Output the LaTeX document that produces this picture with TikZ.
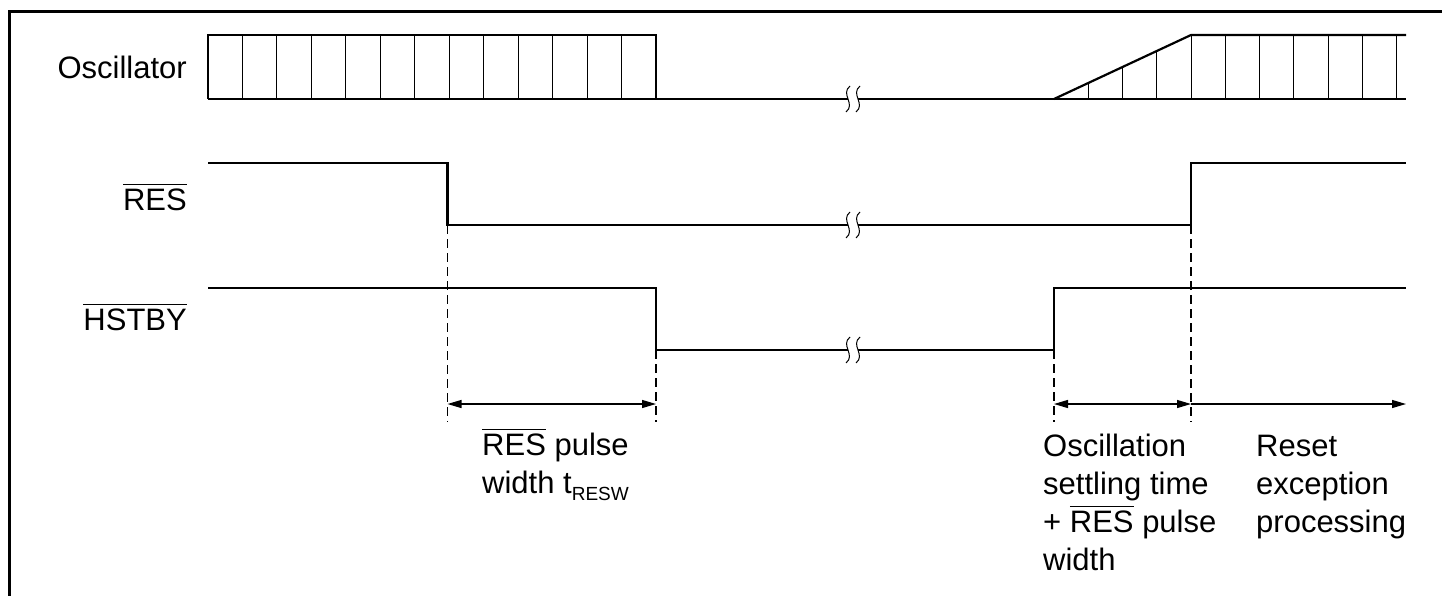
\documentclass[tikz,border=0pt]{standalone}
\usepackage{fontspec}
\setmainfont{Liberation Sans}
\usetikzlibrary{arrows.meta}
\newcommand\ovl[1]{\leavevmode\setbox0\hbox{#1}\rlap{\rule[\dimexpr\ht0+3.2pt\relax]{\wd0}{1.3pt}}\box0\relax}
\newcommand\subs[1]{\raisebox{-7pt}{\fontsize{19}{19}\selectfont #1}}
\tikzset{
  sig/.style={line width=2.2pt, line join=miter},
  osctick/.style={line width=1pt},
  guide/.style={line width=1.2pt, dash pattern=on 9pt off 5pt},
  dim/.style={line width=1.2pt},
  tip/.tip={Triangle[length=14pt,width=8pt]},
  lbl/.style={inner sep=0pt, align=left, font=\fontsize{31}{38}\selectfont},
  brk/.style={line width=1pt},
}
\begin{document}
\begin{tikzpicture}[x=1pt,y=-1pt]
\useasboundingbox (0,0) rectangle (1442,595);
% frame
\draw[line width=3pt] (9,600) -- (9,11) -- (1450,11);

% signal labels
\node[lbl, anchor=base east] (losc) at (187,78) {Oscillator};
\node[lbl, anchor=base east] (lres) at (187,210) {\ovl{RES}};
\node[lbl, anchor=base east] (lhst) at (187,330) {\ovl{HSTBY}};

% oscillator
\draw[sig] (208,99) -- (208,35) -- (656,35) -- (656,99);
\foreach \i in {1,...,12} \draw[osctick] ({208+\i*34.4615},35) -- ++(0,64);
\draw[sig] (208,99) -- (848,99);
\draw[sig] (858,99) -- (1406,99);
\draw[sig] (1054,99) -- (1191,35) -- (1406,35);
\foreach \k in {1,2,3} \draw[osctick] ({1054+\k*34.25},99) -- ({1054+\k*34.25},{99-16*\k});
\foreach \k in {0,...,6} \draw[osctick] ({1191+\k*34.25},35) -- ++(0,64);

% RES
\draw[sig] (208,163) -- (447.5,163) -- (447.5,225) -- (848,225);
\draw[sig] (858,225) -- (1191,225) -- (1191,163) -- (1406,163);

% HSTBY
\draw[sig] (208,288) -- (656,288) -- (656,350) -- (848,350);
\draw[sig] (858,350) -- (1054,350) -- (1054,288) -- (1406,288);

% break marks
\foreach \y in {99,225,350}{
  \fill[white] (848,\y-3) rectangle (858,\y+3);
  \draw[brk] (850,\y-13) .. controls (840,\y-5) and (856,\y+5) .. (846,\y+13);
  \draw[brk] (860,\y-13) .. controls (850,\y-5) and (866,\y+5) .. (856,\y+13);
}

% guide lines
\coordinate (g1t) at (447.5,225); \coordinate (g1b) at (447.5,422);
\coordinate (g2t) at (656,350);   \coordinate (g2b) at (656,422);
\coordinate (g3t) at (1054,350);  \coordinate (g3b) at (1054,422);
\coordinate (g4t) at (1191,225);  \coordinate (g4b) at (1191,422);
\draw[guide] (g1t) -- (g1b);
\draw[guide] (g2t) -- (g2b);
\draw[guide] (g3t) -- (g3b);
\draw[guide] (g4t) -- (g4b);

% dimension arrows
\coordinate (a1) at (447.5,404); \coordinate (a2) at (656,404);
\coordinate (a3) at (1054,404);  \coordinate (a4) at (1191,404);
\coordinate (a5) at (1406,404);
\draw[dim, tip-tip] (a1) -- (a2);
\draw[dim, tip-tip] (a3) -- (a4);
\draw[dim, -tip] (a4) -- (a5);

% labels (base anchor = baseline of last line)
\node[lbl, anchor=base west] (t1) at (482,493) {\ovl{RES} pulse\\width t\subs{RESW}};
\node[lbl, anchor=base west] (t2) at (1043,570) {Oscillation\\settling time\\+ \ovl{RES} pulse\\width};
\node[lbl, anchor=base west] (t3) at (1256,532) {Reset\\exception\\processing};
\end{tikzpicture}
\end{document}
